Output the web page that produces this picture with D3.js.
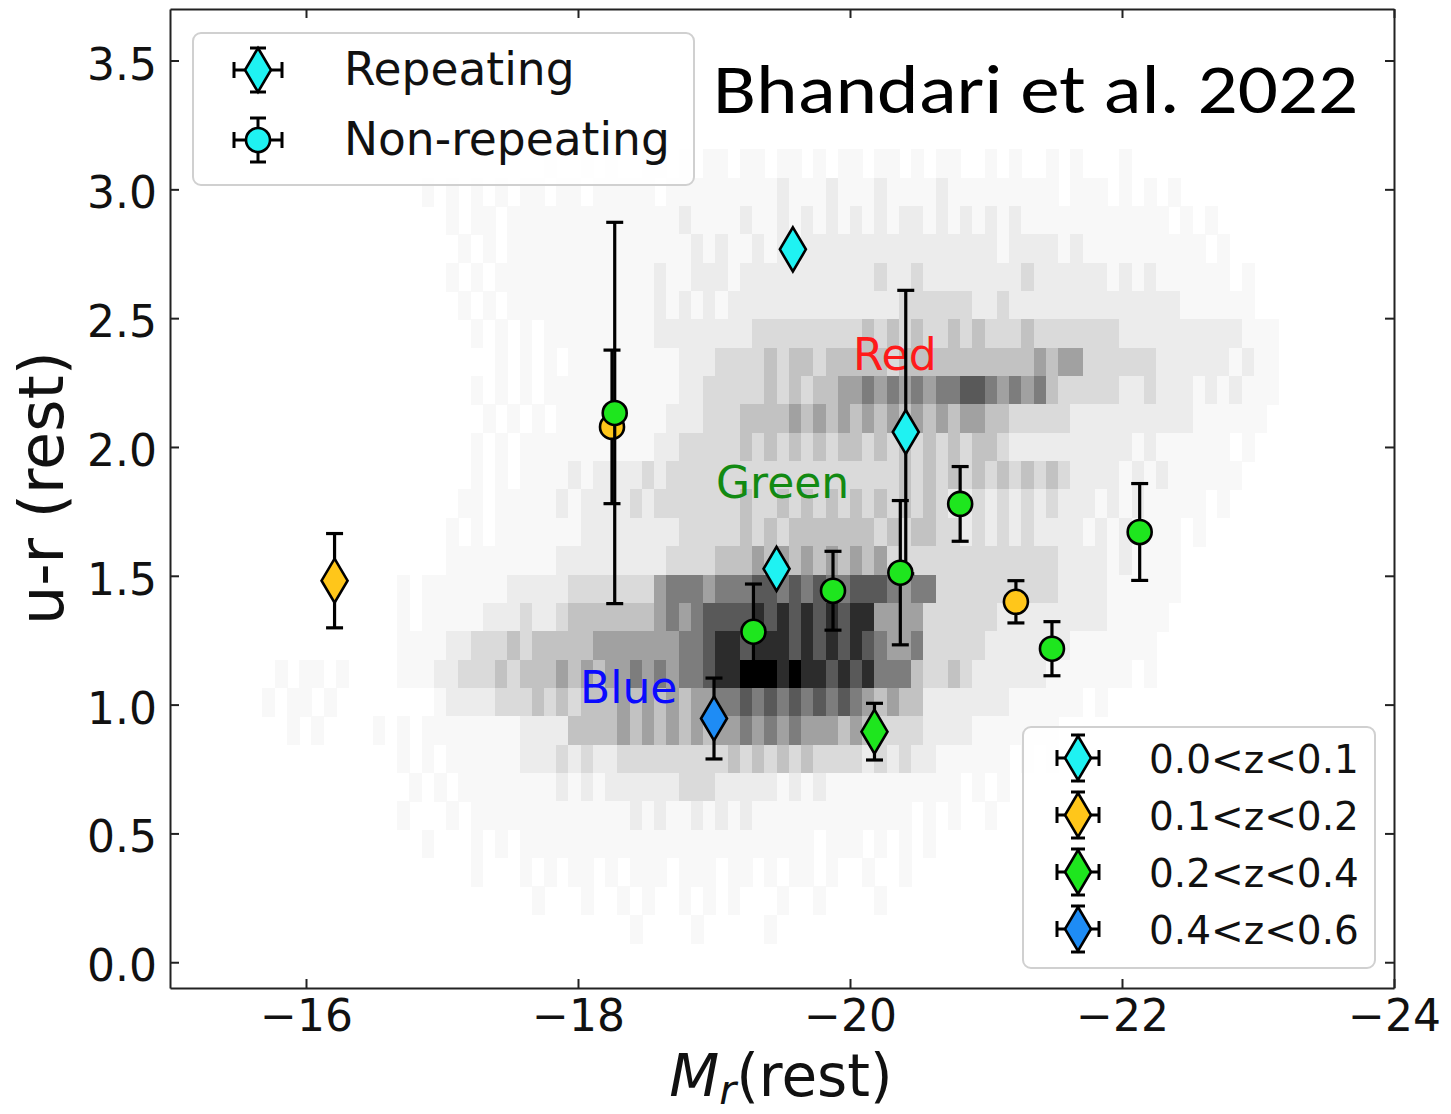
<!DOCTYPE html>
<html>
<head>
<meta charset="utf-8">
<script src="https://cdn.jsdelivr.net/npm/d3@7"></script>
<style>
  body { margin: 0; background: #fff; }
  svg text { font-family: "DejaVu Sans", sans-serif; }
</style>
</head>
<body>
<svg id="chart" width="1451" height="1114"></svg>
<script>
// ---- data ----
const zLabels = ['0.0<z<0.1', '0.1<z<0.2', '0.2<z<0.4', '0.4<z<0.6'];
const zColors = ['#1ff2f2', '#ffc61a', '#1ee61e', '#1e8cf5'];

// repeating FRBs (diamonds)
const repMag   = [-16.21, -19.58, -20.41, -19.46, -19.00, -20.18];
const repColor = [1.481, 2.767, 2.058, 1.527, 0.946, 0.895];
const repErr   = [0.183, 0, 0.55, 0, 0.157, 0.11];
const repZ     = [1, 0, 0, 0, 3, 2];

// non-repeating FRBs (circles)
const nonMag   = [-18.25, -18.27, -19.29, -19.875, -20.37, -20.81, -21.22, -21.485, -22.13];
const nonColor = [2.078, 2.132, 1.283, 1.442, 1.512, 1.779, 1.399, 1.217, 1.670];
const nonErr   = [0.298, 0.74, 0.185, 0.153, 0.28, 0.145, 0.082, 0.105, 0.188];
const nonZ     = [1, 2, 2, 2, 2, 2, 1, 2, 2];

const xTicks = [-16, -18, -20, -22, -24];
const yTicks = [0, 0.5, 1, 1.5, 2, 2.5, 3, 3.5];

// background galaxy histogram: density level 0-9 per bin, rows top to bottom
const magStart = -15.5, magStep = 0.09;
const colorTop = 3.155, colorStep = 0.11;
const histRows = [
  '0000000000 0000000000 0000010010 1001101011 0110110101 1011010110 0101001010 0010000000 00000000',
  '0000000000 0000010101 0101101101 1111011111 1111211121 1121111211 1111111011 1010101000 00000000',
  '0000000000 0000000101 1011111111 1111112111 1211212121 2121221212 1212111111 1111110101 00000000',
  '0000000000 0000000010 1011111111 1111111212 1121212222 2222222222 2212222121 1111111110 10000000',
  '0000000000 0000000101 0111111111 1111211222 1222222222 2232232222 2222322222 2121211111 10100000',
  '0000000000 0000000010 1011111111 1111212121 2222222222 2222333333 2232222222 2222222111 11100000',
  '0000000000 0000000001 0101011111 1111222222 2233333333 3434343343 4333433333 3322222222 22111000',
  '0000000000 0000000000 0101010111 1111112223 3334344344 4443444444 4444454553 3333322222 21211000',
  '0000000000 0000000001 0101011111 1111112233 3334343445 5656565667 7656564333 3322322212 12111000',
  '0000000000 0000000000 1010101111 1111122233 3444454545 4545454545 5443333322 2222222211 11110000',
  '0000000000 0000000001 0101111111 1111223333 3434343434 4343434343 4432222222 2221211111 10100000',
  '0000000000 0000000001 0101111212 2223233333 3333333333 3333434343 4343434322 2212121111 11000000',
  '0000000000 0000000011 0111112122 2232333333 3433434343 4343434322 3232323222 1212111110 10000000',
  '0000000000 0000000101 0111111122 2222223333 3434344444 4434344332 3232322221 2121111010 00000000',
  '0000000000 0000000111 1111112222 2222233334 4454545454 5453333333 3333333222 2121111000 00000000',
  '0000000000 0001011111 1122222333 3333566656 6677676766 7776566333 3333333222 2111111000 00000000',
  '0000000000 0001011111 2223223444 4444565677 7787878787 8855553333 3322222222 2111110000 00000000',
  '0000000000 0001111223 3343444445 5555556678 8788878787 8765563333 3222222211 1111100000 00000000',
  '0001011010 0001112233 3434445454 5565656678 8999898878 7866643343 2222221111 1110100000 00000000',
  '0010110100 0000001222 2333434344 4545454556 6767676767 6545442222 2221111110 1000000000 00000000',
  '0000101000 0101011111 1112222444 4545454545 5656565554 5433332222 1111111000 0000000000 00000000',
  '0000000000 0001010111 1112223232 2333333333 4343434333 3232322111 1110101000 0000000000 00000000',
  '0000000000 0000101011 1111112121 2222223332 2222121211 1111111110 1010000000 0000000000 00000000',
  '0000000000 0001000101 1111111111 1121211212 1211111111 1111101010 0100000000 0000000000 00000000',
  '0000000000 0000010001 0101111111 1111111111 1111111011 1010101000 0000000000 0000000000 00000000',
  '0000000000 0000000001 0001010110 1011101110 1101011010 0100100000 0000000000 0000000000 00000000',
  '0000000000 0000000000 0000100010 0101001010 1000100100 0010000000 0000000000 0000000000 00000000',
  '0000000000 0000000000 0000000000 0010000100 0001000000 0000000000 0000000000 0000000000 00000000'
];

// ---- layout ----
const svg = d3.select('#chart');
const plotLeft = 170, plotRight = 1394, plotTop = 9, plotBottom = 988;

const x = d3.scaleLinear().domain([-15, -24]).range([plotLeft, plotRight]);
const y = d3.scaleLinear().domain([-0.1, 3.7]).range([plotBottom, plotTop]);
const grey = d3.scaleSequentialPow(d3.interpolateGreys).exponent(1.3).domain([0, 9]);

svg.append('defs').append('clipPath').attr('id', 'plotClip')
  .append('rect').attr('x', plotLeft).attr('y', plotTop)
  .attr('width', plotRight - plotLeft).attr('height', plotBottom - plotTop);

// histogram
const hist = svg.append('g').attr('clip-path', 'url(#plotClip)')
  .attr('shape-rendering', 'crispEdges');
histRows.forEach((row, i) => {
  const levels = row.replace(/ /g, '').split('').map(Number);
  const hi = colorTop - i * colorStep, lo = hi - colorStep;
  levels.forEach((v, c) => {
    if (!v) return;
    const m0 = magStart - c * magStep, m1 = m0 - magStep;
    hist.append('rect')
      .attr('x', x(m0))
      .attr('y', y(hi))
      .attr('width', x(m1) - x(m0) + 0.6)
      .attr('height', y(lo) - y(hi) + 0.6)
      .attr('fill', grey(v));
  });
});

// region labels
svg.append('text').attr('x', 853).attr('y', 370).attr('fill', '#ff1a1a')
  .style('font-size', '44px').text('Red');
svg.append('text').attr('x', 716).attr('y', 498).attr('fill', '#128a12')
  .style('font-size', '44px').text('Green');
svg.append('text').attr('x', 580).attr('y', 703).attr('fill', '#0a0aff')
  .style('font-size', '44px').text('Blue');

// axes (ticks inward on all four sides)
function styleAxis(g) {
  g.attr('font-family', null).attr('font-size', null);
  g.selectAll('.domain').attr('stroke', '#222').attr('stroke-width', 2);
  g.selectAll('.tick line').attr('stroke', '#222').attr('stroke-width', 2);
  g.selectAll('.tick text').attr('fill', '#111').style('font-size', '44px');
}

svg.append('g').attr('transform', `translate(0,${plotBottom})`)
  .call(d3.axisBottom(x).tickValues(xTicks).tickSizeInner(-9).tickSizeOuter(0)
    .tickPadding(12).tickFormat(d3.format('d')))
  .call(styleAxis);
svg.append('g').attr('transform', `translate(0,${plotTop})`)
  .call(d3.axisTop(x).tickValues(xTicks).tickSizeInner(-9).tickSizeOuter(0).tickFormat(''))
  .call(styleAxis);
svg.append('g').attr('transform', `translate(${plotLeft},0)`)
  .call(d3.axisLeft(y).tickValues(yTicks).tickSizeInner(-9).tickSizeOuter(0)
    .tickPadding(13).tickFormat(d3.format('.1f')))
  .call(styleAxis)
  .selectAll('.tick text').attr('dy', '0.42em');
svg.append('g').attr('transform', `translate(${plotRight},0)`)
  .call(d3.axisRight(y).tickValues(yTicks).tickSizeInner(-9).tickSizeOuter(0).tickFormat(''))
  .call(styleAxis);

// axis titles
svg.append('text')
  .attr('transform', 'translate(63,488) rotate(-90)')
  .attr('text-anchor', 'middle').attr('fill', '#111')
  .style('font-size', '62px').text('u-r (rest)');

const xl = svg.append('text').attr('x', 781).attr('y', 1096)
  .attr('text-anchor', 'middle').attr('fill', '#111').style('font-size', '58px');
xl.append('tspan').style('font-style', 'italic').text('M');
xl.append('tspan').style('font-style', 'italic').style('font-size', '41px')
  .attr('dy', 8).text('r');
xl.append('tspan').attr('dy', -8).text('(rest)');

// markers
const diamondPath = (hw, hh) => `M0,${-hh}L${hw},0L0,${hh}L${-hw},0Z`;

function errY(g, cx, y0, y1, cap) {
  g.append('line').attr('x1', cx).attr('x2', cx).attr('y1', y0).attr('y2', y1);
  g.append('line').attr('x1', cx - cap).attr('x2', cx + cap).attr('y1', y0).attr('y2', y0);
  g.append('line').attr('x1', cx - cap).attr('x2', cx + cap).attr('y1', y1).attr('y2', y1);
}
function errX(g, cy, x0, x1, cap) {
  g.append('line').attr('y1', cy).attr('y2', cy).attr('x1', x0).attr('x2', x1);
  g.append('line').attr('y1', cy - cap).attr('y2', cy + cap).attr('x1', x0).attr('x2', x0);
  g.append('line').attr('y1', cy - cap).attr('y2', cy + cap).attr('x1', x1).attr('x2', x1);
}
function marker(g, shape, cx, cy, fill) {
  if (shape === 'd') {
    g.append('path').attr('d', diamondPath(13, 22))
      .attr('transform', `translate(${cx},${cy})`)
      .attr('fill', fill).attr('stroke', '#000').attr('stroke-width', 2.6)
      .attr('stroke-linejoin', 'miter');
  } else {
    g.append('circle').attr('cx', cx).attr('cy', cy).attr('r', 12)
      .attr('fill', fill).attr('stroke', '#000').attr('stroke-width', 2.6);
  }
}

const pts = svg.append('g').attr('clip-path', 'url(#plotClip)');
function drawSeries(mags, cols, errs, zs, shape) {
  mags.forEach((m, i) => {
    const g = pts.append('g').attr('stroke', '#000').attr('stroke-width', 3.2);
    const cx = x(m);
    if (errs[i] > 0) errY(g, cx, y(cols[i] + errs[i]), y(cols[i] - errs[i]), 8.5);
    marker(g, shape, cx, y(cols[i]), zColors[zs[i]]);
  });
}
drawSeries(repMag, repColor, repErr, repZ, 'd');
drawSeries(nonMag, nonColor, nonErr, nonZ, 'o');

// title
svg.append('text').attr('x', 713).attr('y', 113)
  .attr('textLength', 645).attr('lengthAdjust', 'spacingAndGlyphs')
  .style('font-family', 'Carlito, Calibri, Lato, sans-serif')
  .style('font-size', '70px').attr('fill', '#000')
  .text('Bhandari et al. 2022');

// legend: burst type
const leg1 = svg.append('g');
leg1.append('rect').attr('x', 193).attr('y', 33).attr('width', 501).attr('height', 152)
  .attr('rx', 8).attr('fill', '#fff').attr('fill-opacity', 0.8)
  .attr('stroke', '#d0d0d0').attr('stroke-width', 2);
[['d', 'Repeating', 70], ['o', 'Non-repeating', 140]].forEach(([shape, label, cy]) => {
  const g = leg1.append('g').attr('stroke', '#000').attr('stroke-width', 3);
  errX(g, cy, 234, 282, 8);
  errY(g, 258, cy - 22, cy + 22, 8);
  marker(g, shape, 258, cy, zColors[0]);
  leg1.append('text').attr('x', 344).attr('y', cy + 15).attr('fill', '#111')
    .style('font-size', '45.5px').text(label);
});

// legend: redshift bins
const leg2 = svg.append('g');
leg2.append('rect').attr('x', 1023).attr('y', 727).attr('width', 352).attr('height', 241)
  .attr('rx', 8).attr('fill', '#fff').attr('fill-opacity', 0.8)
  .attr('stroke', '#d0d0d0').attr('stroke-width', 2);
zLabels.forEach((label, i) => {
  const cy = 758 + i * 57;
  const g = leg2.append('g').attr('stroke', '#000').attr('stroke-width', 3);
  errX(g, cy, 1057, 1099, 8);
  errY(g, 1078, cy - 23, cy + 23, 7);
  marker(g, 'd', 1078, cy, zColors[i]);
  leg2.append('text').attr('x', 1149).attr('y', cy + 15).attr('fill', '#111')
    .style('font-size', '39px').text(label);
});
</script>
</body>
</html>
